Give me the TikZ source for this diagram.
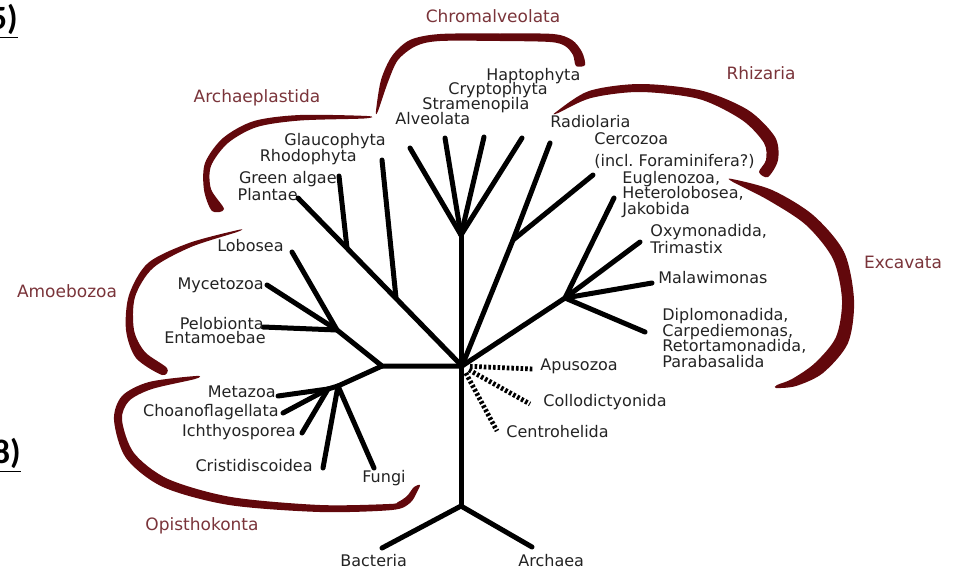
\documentclass[tikz,border=0pt]{standalone}
\usepackage{fontspec}
\setmainfont{DejaVu Sans}
\newfontfamily\numfont{Carlito}
\definecolor{cladered}{RGB}{98,8,12}
\definecolor{cladetext}{RGB}{122,52,58}
\definecolor{taxtext}{RGB}{35,35,35}
\tikzset{
	branch/.style={line width=2.5pt, line cap=round},
	dotbranch/.style={line width=2.4pt, dash pattern=on 1.3pt off 1pt, shorten <=4pt},
	taxon/.style={font=\fontsize{8}{9}\selectfont, text=taxtext, inner sep=0pt, text height=6pt, text depth=1.7pt},
	group/.style={font=\fontsize{8.5}{10}\selectfont, text=cladetext, inner sep=0pt},
	clade/.style={fill=cladered},
	partno/.style={font=\numfont\bfseries\fontsize{17}{20}\selectfont, inner sep=0pt, anchor=east}
}
\begin{document}
\begin{tikzpicture}[x=0.5pt,y=-0.5pt]
		\useasboundingbox (0,0) rectangle (957,573);
		\clip (0,0) rectangle (957,573);
		%part numbers
			\node[partno] (part5) at (18,21) {\underline{5)}};
			\node[partno] (part8) at (21,455) {\underline{8)}};

		%root and trunk
			\coordinate (root) at (461,506);
			\coordinate (hub) at (462,366);
			\coordinate (chromal) at (461,235);
			\coordinate (bact) at (382,548);
			\coordinate (arch) at (532,547);
			\draw[branch] (bact) -- (root) -- (arch);
			\draw[branch] (root) -- (chromal);

		%chromalveolata
			\coordinate (alv) at (410,148);
			\coordinate (stra) at (445,138);
			\coordinate (cryp) at (484,137);
			\coordinate (hapt) at (522,138);
			\foreach \t in {alv, stra, cryp, hapt}{
				\draw[branch] (chromal) -- (\t);
			}

		%rhizaria
			\coordinate (rhiz) at (513,240);
			\coordinate (radio) at (550,143);
			\coordinate (cerco) at (593,175);
			\draw[branch] (hub) -- (rhiz) -- (radio);
			\draw[branch] (rhiz) -- (cerco);

		%excavata
			\coordinate (exc) at (565,298);
			\coordinate (eugl) at (614,198);
			\coordinate (oxym) at (640,242);
			\coordinate (malaw) at (652,283);
			\coordinate (diplo) at (645,332);
			\draw[branch] (hub) -- (exc);
			\foreach \t in {eugl, oxym, malaw, diplo}{
				\draw[branch] (exc) -- (\t);
			}

		%archaeplastida
			\coordinate (plant) at (298,198);
			\coordinate (greenj) at (347,248);
			\coordinate (green) at (339,176);
			\coordinate (rhodj) at (396,298);
			\coordinate (rhod) at (382,160);
			\draw[branch] (hub) -- (plant);
			\draw[branch] (greenj) -- (green);
			\draw[branch] (rhodj) -- (rhod);

		%amoebozoa and opisthokonta
			\coordinate (unik) at (382,366);
			\coordinate (amoj) at (337,330);
			\coordinate (lobo) at (292,252);
			\coordinate (myce) at (267,285);
			\coordinate (pelo) at (263,327);
			\draw[branch] (hub) -- (unik) -- (amoj) -- (lobo);
			\draw[branch] (amoj) -- (myce);
			\draw[branch] (amoj) -- (pelo);
			\coordinate (opij) at (338,386);
			\coordinate (opic) at (328,389);
			\coordinate (meta) at (278,396);
			\coordinate (choa) at (283,413);
			\coordinate (ichth) at (302,433);
			\coordinate (crist) at (323,468);
			\coordinate (fungi) at (374,468);
			\draw[branch] (unik) -- (opij) -- (opic) -- (meta);
			\foreach \t in {choa, ichth}{
				\draw[branch] (opic) -- (\t);
			}
			\foreach \t in {crist, fungi}{
				\draw[branch] (opij) -- (\t);
			}

		%uncertain groups
			\coordinate (apus) at (533,369);
			\coordinate (coll) at (530,404);
			\coordinate (cent) at (497,431);
			\foreach \t in {apus, coll, cent}{
				\draw[dotbranch] (hub) -- (\t);
			}

		%clade brackets
			\fill[clade] plot[smooth cycle, tension=0.5] coordinates {(376,111) (381,80) (392,56) (410,40) (440,34) (500,33.5) (553,34) (572,40) (582,52) (585,65) (576,66) (573,55) (565,46) (550,42) (500,41) (440,41) (416,46) (398,60) (388,82) (378,111)};
			\fill[clade] plot[smooth cycle, tension=0.5] coordinates {(367,116) (300,115) (254,121) (223,138) (205,163) (204,190) (212,211) (224,209) (211,189) (211,166) (228,143) (257,127) (300,120.5) (364,118.5)};
			\fill[clade] plot[smooth cycle, tension=0.5] coordinates {(556,112) (589,91) (640,84) (701,90.5) (748,110) (775,137) (778,160) (768,177) (759,172) (766,160) (764,143) (742,120) (699,99) (640,92) (591,98) (558,113)};
			\fill[clade] plot[smooth cycle, tension=0.5] coordinates {(732,179) (772,190) (813,215) (844,252) (854,300) (848,343) (823,373) (796,386) (776,388) (777,385) (792,379) (815,363) (836,337) (842,300) (833,259) (806,225) (768,200) (733,182)};
			\fill[clade] plot[smooth cycle, tension=0.5] coordinates {(238,230) (189,243) (148,263) (129,295) (126,330) (136,358) (162,375) (167,368) (145,352) (134,330) (135,297) (153,268) (191,247) (237,232)};
			\fill[clade] plot[smooth cycle, tension=0.5] coordinates {(196,376) (149,382) (122,396) (114,420) (126,458) (163,487) (229,505) (320,512) (392,510) (410,503) (417,492) (420,485) (414,487) (407,496) (398,502) (389,504) (320,505) (231,497) (168,479) (134,453) (122,420) (129,401) (152,389) (195,379)};

		%clade names
			\node[group] (gChrom) at (493,16) {Chromalveolata};
			\node[group] (gArchae) at (257,98) {Archaeplastida};
			\node[group] (gRhiz) at (761,73) {Rhizaria};
			\node[group] (gExc) at (903,262) {Excavata};
			\node[group] (gAmoe) at (67,291) {Amoebozoa};
			\node[group] (gOpis) at (202,526) {Opisthokonta};

		%taxa, right side
			\node[taxon, anchor=west] (tBact) at (340,562) {Bacteria};
			\node[taxon, anchor=west] (tArch) at (518,562) {Archaea};
			\node[taxon, anchor=west] (tCent) at (506,433) {Centrohelida};
			\node[taxon, anchor=west] (tColl) at (543,402) {Collodictyonida};
			\node[taxon, anchor=west] (tApus) at (540,366) {Apusozoa};
			\node[taxon, anchor=west] (tPara) at (662,363) {Parabasalida};
			\node[taxon, anchor=west] (tReto) at (662,347) {Retortamonadida,};
			\node[taxon, anchor=west] (tCarp) at (662,332) {Carpediemonas,};
			\node[taxon, anchor=west] (tDipl) at (662,316) {Diplomonadida,};
			\node[taxon, anchor=west] (tMala) at (658,279) {Malawimonas};
			\node[taxon, anchor=west] (tTrim) at (650,249) {Trimastix};
			\node[taxon, anchor=west] (tOxym) at (650,232) {Oxymonadida,};
			\node[taxon, anchor=west] (tJako) at (622,210) {Jakobida};
			\node[taxon, anchor=west] (tHete) at (622,194) {Heterolobosea,};
			\node[taxon, anchor=west] (tEugl) at (622,179) {Euglenozoa,};
			\node[taxon, anchor=west] (tFora) at (594,162) {(incl.\ Foraminifera?)};
			\node[taxon, anchor=west] (tCerc) at (594,140) {Cercozoa};
			\node[taxon, anchor=west] (tRadi) at (550,123) {Radiolaria};
			\node[taxon, anchor=west] (tHapt) at (486,76) {Haptophyta};
			\node[taxon, anchor=west] (tCryp) at (448,90) {Cryptophyta};
			\node[taxon, anchor=west] (tStra) at (422,105) {Stramenopila};
			\node[taxon, anchor=west] (tAlve) at (395,120) {Alveolata};
			\node[taxon, anchor=west] (tFung) at (362,478) {Fungi};

		%taxa, left side
			\node[taxon, anchor=east] (tGlau) at (386,141) {Glaucophyta};
			\node[taxon, anchor=east] (tRhod) at (357,157) {Rhodophyta};
			\node[taxon, anchor=east] (tGree) at (337,179) {Green algae};
			\node[taxon, anchor=east] (tPlan) at (298,196) {Plantae};
			\node[taxon, anchor=east] (tLobo) at (284,247) {Lobosea};
			\node[taxon, anchor=east] (tMyce) at (264,285) {Mycetozoa};
			\node[taxon, anchor=east] (tPelo) at (264,325) {Pelobionta};
			\node[taxon, anchor=east] (tEnta) at (266,339) {Entamoebae};
			\node[taxon, anchor=east] (tMeta) at (276,393) {Metazoa};
			\node[taxon, anchor=east] (tChoa) at (279,412) {Choanoflagellata};
			\node[taxon, anchor=east] (tIcht) at (296,432) {Ichthyosporea};
			\node[taxon, anchor=east] (tCris) at (313,467) {Cristidiscoidea};
\end{tikzpicture}
\end{document}
